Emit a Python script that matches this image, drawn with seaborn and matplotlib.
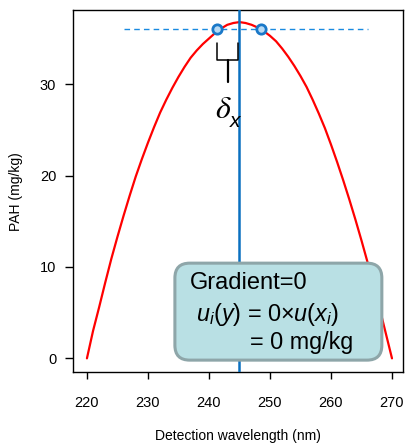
import numpy as np
import pandas as pd
import matplotlib
matplotlib.use("Agg")
import matplotlib.pyplot as plt
import seaborn as sns
from matplotlib.patches import FancyBboxPatch

# curve (1 nm steps)
wavelength = list(range(220, 271))
pah = [0, 3.0, 5.6, 8.3, 10.9, 13.3, 15.6, 17.8, 19.9, 21.8,
       23.6, 25.3, 26.9, 28.3, 29.6, 30.8, 31.9, 32.9, 33.7, 34.4,
       35.0, 35.6, 36.1, 36.5, 36.7, 36.8, 36.7, 36.5, 36.2, 35.8,
       35.3, 34.7, 33.9, 33.0, 32.0, 30.9, 29.7, 28.3, 26.8, 25.2,
       23.4, 21.5, 19.5, 17.4, 15.2, 12.9, 10.5, 8.0, 5.4, 2.7, 0]

peak_x = 245
level_y = 36.0
level_span = [226, 266]
cross_x = [241.4, 248.5]
cross_y = [36.0, 36.0]

x_ticks = [220, 230, 240, 250, 260, 270]
y_ticks = [0, 10, 20, 30]

df = pd.DataFrame({"wavelength": wavelength, "pah": pah})
pts = pd.DataFrame({"x": cross_x, "y": cross_y})

sns.set_theme(style="ticks")
plt.rcParams["font.family"] = ["Liberation Sans", "DejaVu Sans"]
plt.rcParams["text.color"] = "black"
plt.rcParams["axes.labelcolor"] = "black"
plt.rcParams["mathtext.fontset"] = "custom"
plt.rcParams["mathtext.rm"] = "Liberation Sans"
plt.rcParams["mathtext.it"] = "Liberation Sans:italic"

fig = plt.figure(figsize=(4.05, 4.44), dpi=100)
ax = fig.add_axes([0.180, 0.162, 0.815, 0.815])

sns.lineplot(data=df, x="wavelength", y="pah", color="#ff0000", lw=1.6, ax=ax, zorder=3)
ax.axvline(peak_x, color="#0a70c0", lw=1.8, zorder=4)
ax.plot(level_span, [level_y, level_y], ls=(0, (4, 3)), color="#1a8ae0", lw=1.0, zorder=2)
sns.scatterplot(data=pts, x="x", y="y", s=45, color="#b8daf4", edgecolor="#1a78c8",
                linewidth=2.0, ax=ax, zorder=5)

# bracket under the two crossing points
bx0, bx1 = cross_x[0], 244.8
ax.plot([bx0, bx0, bx1, bx1], [34.5, 32.6, 32.6, 34.5], color="black", lw=1.1, zorder=5)
ax.plot([243.1, 243.1], [32.6, 30.2], color="black", lw=1.6, zorder=5)
plt.rcParams["mathtext.fontset"] = "stix"
ax.text(242.3, 27.2, r"$\delta$", fontsize=23, ha="center", va="center", zorder=6)
ax.text(244.3, 25.9, "x", fontsize=15, style="italic", ha="center", va="center", zorder=6)
plt.rcParams["mathtext.fontset"] = "custom"

# annotation box
box = FancyBboxPatch((0.309, 0.033), 0.627, 0.268, transform=ax.transAxes,
                     boxstyle="round,pad=0,rounding_size=0.045", mutation_aspect=0.912,
                     facecolor="#b9e0e4", edgecolor="#8ea6a9", lw=2.2, zorder=7)
ax.add_patch(box)
ax.text(0.355, 0.246, "Gradient=0", transform=ax.transAxes, fontsize=17,
        ha="left", va="center", zorder=8)
ax.text(0.373, 0.160, r"$u_i(y)$ = 0×$u(x_i)$", transform=ax.transAxes, fontsize=16.8,
        ha="left", va="center", zorder=8)
ax.text(0.536, 0.083, "= 0 mg/kg", transform=ax.transAxes, fontsize=16.8,
        ha="left", va="center", zorder=8)

ax.set_xlim(217.7, 271.8)
ax.set_ylim(-1.5, 38.1)
ax.set_xticks(x_ticks)
ax.set_yticks(y_ticks)
ax.tick_params(axis="x", direction="out", length=5, width=1, pad=12, labelsize=10.5, colors="black")
ax.tick_params(axis="y", direction="out", length=6, width=1, pad=6, labelsize=10.5, colors="black")
for sp in ax.spines.values():
    sp.set_visible(True)
    sp.set_color("black")
    sp.set_linewidth(1.0)
ax.set_xlabel("Detection wavelength (nm)", fontsize=10, labelpad=14)
ax.set_ylabel("PAH (mg/kg)", fontsize=10, labelpad=12)

fig.savefig("out.png", dpi=100)
